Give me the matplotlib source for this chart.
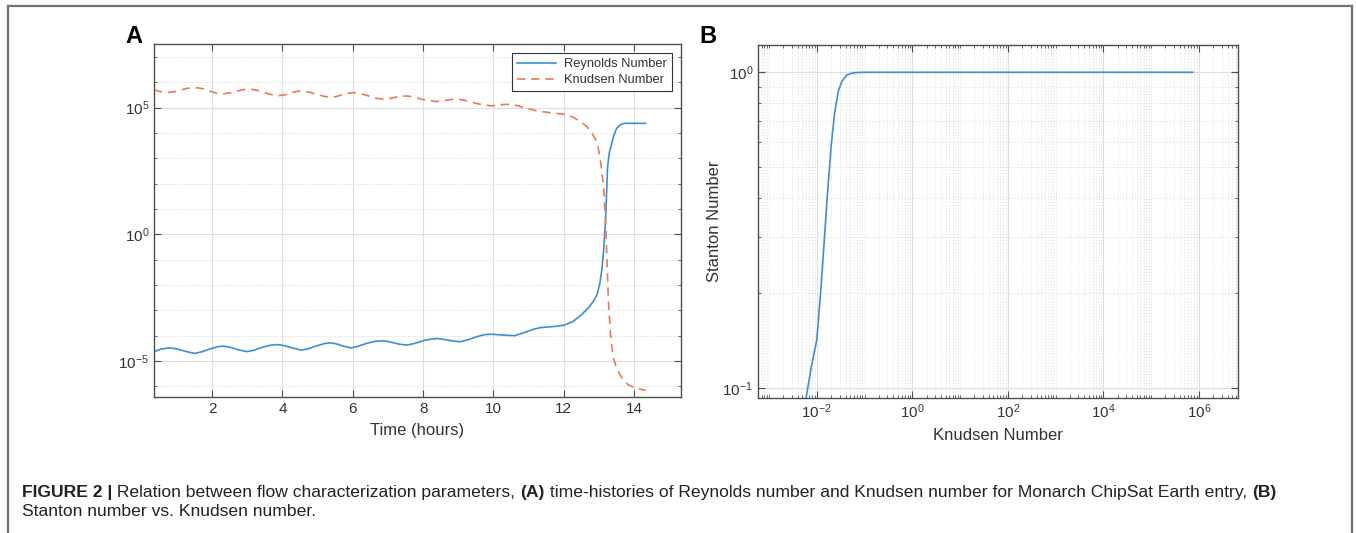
import numpy as np
import matplotlib
matplotlib.use("Agg")
import matplotlib.pyplot as plt
from matplotlib import font_manager
from matplotlib.ticker import FixedLocator, LogLocator, NullFormatter, LogFormatterSciNotation
from matplotlib.lines import Line2D

# ---------------- data ----------------
knudsen_time = [0.35, 0.50, 0.68, 0.90, 1.10, 1.30, 1.53, 1.72, 1.92, 2.10, 2.29, 2.50, 2.70, 2.90,
                3.09, 3.30, 3.50, 3.70, 3.90, 4.08, 4.25, 4.40, 4.56, 4.76, 4.96, 5.17, 5.37, 5.55,
                5.70, 5.86, 6.03, 6.24, 6.45, 6.66, 6.88, 7.05, 7.22, 7.38, 7.55, 7.75, 7.95, 8.18,
                8.40, 8.55, 8.70, 8.85, 9.01, 9.25, 9.50, 9.73, 9.96, 10.10, 10.25, 10.48, 10.70,
                10.95, 11.24, 11.60, 12.00, 12.25, 12.47, 12.65, 12.80, 12.90, 12.97, 13.05, 13.13,
                13.20, 13.27, 13.33, 13.40, 13.50, 13.62, 13.72, 13.83, 14.05, 14.32]
knudsen_log10 = [5.70, 5.64, 5.59, 5.62, 5.69, 5.76, 5.79, 5.75, 5.66, 5.58, 5.54, 5.58, 5.65, 5.71,
                 5.73, 5.68, 5.59, 5.51, 5.47, 5.51, 5.58, 5.64, 5.66, 5.61, 5.53, 5.45, 5.41, 5.44,
                 5.51, 5.56, 5.59, 5.54, 5.46, 5.37, 5.33, 5.36, 5.41, 5.45, 5.46, 5.41, 5.33, 5.27,
                 5.24, 5.27, 5.30, 5.33, 5.33, 5.27, 5.17, 5.10, 5.07, 5.09, 5.12, 5.13, 5.07,
                 4.97, 4.87, 4.80, 4.74, 4.63, 4.45, 4.26, 3.99, 3.75, 3.47, 2.80, 1.90,
                 0.00, -2.74, -4.00, -4.83, -5.30, -5.60, -5.80, -5.94, -6.07, -6.16]

reynolds_time = [0.35, 0.55, 0.80, 1.00, 1.25, 1.50, 1.70, 1.95, 2.15, 2.30, 2.50, 2.75, 3.00, 3.20,
                 3.45, 3.65, 3.85, 4.05, 4.30, 4.55, 4.75, 5.00, 5.20, 5.37, 5.55, 5.75, 5.96, 6.15,
                 6.40, 6.65, 6.89, 7.10, 7.30, 7.54, 7.75, 8.00, 8.20, 8.40, 8.60, 8.85, 9.06, 9.30,
                 9.55, 9.75, 9.93, 10.20, 10.60, 10.85, 11.10, 11.34, 11.70, 12.00, 12.25, 12.48,
                 12.70, 12.86, 12.95, 13.02, 13.08, 13.13, 13.19, 13.24, 13.29, 13.35, 13.42, 13.50,
                 13.60, 13.72, 14.32]
reynolds_log10 = [-4.63, -4.53, -4.48, -4.52, -4.62, -4.70, -4.64, -4.52, -4.44, -4.41, -4.45, -4.56,
                  -4.63, -4.57, -4.45, -4.38, -4.35, -4.39, -4.49, -4.57, -4.51, -4.39, -4.31, -4.28,
                  -4.33, -4.42, -4.48, -4.42, -4.30, -4.22, -4.20, -4.26, -4.33, -4.37, -4.31, -4.20,
                  -4.14, -4.11, -4.15, -4.21, -4.24, -4.15, -4.03, -3.96, -3.94, -3.97, -4.00, -3.89,
                  -3.76, -3.68, -3.64, -3.59, -3.45, -3.20, -2.90, -2.60, -2.35, -1.96, -1.40, -0.65,
                  0.65, 2.60, 3.20, 3.52, 3.90, 4.18, 4.32, 4.38, 4.38]

stanton_knudsen = [0.0055, 0.00597, 0.00773, 0.0100, 0.0119, 0.0141, 0.0168, 0.0200, 0.0236, 0.0282,
                   0.0333, 0.0430, 0.0608, 0.100, 1.0, 10.0, 1.0e2, 1.0e3, 1.0e4, 1.0e5, 7.4e5]
stanton_number = [0.085, 0.093, 0.117, 0.142, 0.195, 0.281, 0.414, 0.582, 0.742, 0.869,
                  0.934, 0.981, 0.997, 1.0, 1.0, 1.0, 1.0, 1.0, 1.0, 1.0, 1.0]

a_xticks = [2, 4, 6, 8, 10, 12, 14]
a_yticks = [1e-5, 1e0, 1e5]
b_xticks = [1e-2, 1e0, 1e2, 1e4, 1e6]
b_yticks = [1e-1, 1e0]

caption_line1 = [("FIGURE 2 |", "bold"),
                 (" Relation between flow characterization parameters, ", "normal"),
                 ("(A)", "bold"),
                 (" time-histories of Reynolds number and Knudsen number for Monarch ChipSat Earth entry, ", "normal"),
                 ("(B)", "bold")]
caption_line2 = "Stanton number vs. Knudsen number."

# ---------------- style ----------------
avail = {f.name for f in font_manager.fontManager.ttflist}
base_font = "Liberation Sans" if "Liberation Sans" in avail else "DejaVu Sans"
cap_font = "Liberation Sans Narrow" if "Liberation Sans Narrow" in avail else base_font

plt.rcParams["font.family"] = [base_font, "DejaVu Sans"]
plt.rcParams["mathtext.fontset"] = "custom"
plt.rcParams["mathtext.rm"] = base_font
plt.rcParams["mathtext.it"] = base_font
plt.rcParams["mathtext.bf"] = base_font + ":bold"
plt.rcParams["axes.unicode_minus"] = False

BLUE = "#3d8ed6"
ORANGE = "#ec7a4f"
AXC = "#4d4d4d"
TXT = "#333333"

W, H = 1356, 533
fig = plt.figure(figsize=(W / 100, H / 100), dpi=100)


def px_rect(l, t, r, b):
    return [l / W, 1 - b / H, (r - l) / W, (b - t) / H]


def style_axes(ax, minor_color="#cfcfcf"):
    for s in ax.spines.values():
        s.set_color(AXC)
        s.set_linewidth(1.0)
    ax.tick_params(which="both", direction="in", top=True, right=True, color=AXC,
                   labelcolor=TXT, labelsize=11)
    ax.tick_params(which="major", length=5, width=0.8)
    ax.tick_params(which="minor", length=2.5, width=0.6)
    ax.grid(which="major", color="#dedede", linestyle="-", linewidth=0.8)
    ax.grid(which="minor", color=minor_color, linestyle=(0, (1, 2)), linewidth=0.7)
    ax.set_axisbelow(True)


# ---------------- Panel A ----------------
axA = fig.add_axes(px_rect(154, 44, 681, 397))
axA.set_yscale("log")
axA.plot(reynolds_time, np.power(10.0, reynolds_log10), color=BLUE, lw=1.2, label="Reynolds Number")
axA.plot(knudsen_time, np.power(10.0, knudsen_log10), color=ORANGE, lw=1.2, ls=(0, (5, 3.5)),
         label="Knudsen Number")
axA.set_xlim(0.35, 15.33)
axA.set_ylim(10 ** -6.42, 10 ** 7.51)
axA.xaxis.set_major_locator(FixedLocator(a_xticks))
axA.yaxis.set_major_locator(FixedLocator(a_yticks))
axA.yaxis.set_major_formatter(LogFormatterSciNotation())
axA.yaxis.set_minor_locator(FixedLocator([10.0 ** k for k in range(-7, 9)]))
axA.yaxis.set_minor_formatter(NullFormatter())
style_axes(axA)
axA.grid(which="minor", axis="x", visible=False)
axA.set_xlabel("Time (hours)", fontsize=12, color=TXT, labelpad=5)
leg = axA.legend(loc="upper right", fontsize=9.3, frameon=True, fancybox=False,
                 edgecolor="#333333", framealpha=1, handlelength=3.0, borderaxespad=0.7,
                 borderpad=0.4, labelspacing=0.3, handletextpad=0.6)
leg.get_frame().set_linewidth(0.8)
for t in leg.get_texts():
    t.set_color(TXT)

# ---------------- Panel B ----------------
axB = fig.add_axes(px_rect(758, 45, 1238, 398))
axB.set_xscale("log")
axB.set_yscale("log")
axB.plot(stanton_knudsen, stanton_number, color=BLUE, lw=1.2)
axB.set_xlim(10 ** -3.23, 10 ** 6.82)
axB.set_ylim(0.093, 1.22)
axB.xaxis.set_major_locator(FixedLocator(b_xticks))
axB.xaxis.set_major_formatter(LogFormatterSciNotation())
axB.xaxis.set_minor_locator(LogLocator(base=10, subs=np.arange(1, 10), numticks=100))
axB.xaxis.set_minor_formatter(NullFormatter())
axB.yaxis.set_major_locator(FixedLocator(b_yticks))
axB.yaxis.set_major_formatter(LogFormatterSciNotation())
axB.yaxis.set_minor_locator(LogLocator(base=10, subs=np.arange(1, 10), numticks=100))
axB.yaxis.set_minor_formatter(NullFormatter())
style_axes(axB, minor_color="#dadada")
axB.set_xlabel("Knudsen Number", fontsize=12, color=TXT, labelpad=5)
axB.set_ylabel("Stanton Number", fontsize=12, color=TXT, labelpad=0.5)

# ---------------- panel letters ----------------
fig.text(125 / W, 1 - 43 / H, "A", fontsize=17, fontweight="bold", color="black", va="baseline")
fig.text(699 / W, 1 - 43 / H, "B", fontsize=17, fontweight="bold", color="black", va="baseline")

# ---------------- frame ----------------
frame_kw = dict(color="#6e6e6e", lw=1.6, transform=fig.transFigure, clip_on=False)
fig.add_artist(Line2D([8 / W, 8 / W], [0, 1 - 6 / H], **frame_kw))
fig.add_artist(Line2D([8 / W, 1352 / W], [1 - 6 / H, 1 - 6 / H], **frame_kw))
fig.add_artist(Line2D([1352 / W, 1352 / W], [0, 1 - 6 / H], **frame_kw))

# ---------------- caption ----------------
fig.canvas.draw()
renderer = fig.canvas.get_renderer()
target_width = 1278 - 22


def place_line(parts, size, y_px):
    x = 22
    arts = []
    for txt, wt in parts:
        t = fig.text(x / W, 1 - y_px / H, txt, fontsize=size, fontweight=wt,
                     family=[cap_font, "DejaVu Sans"], color="#222222", va="center")
        bb = t.get_window_extent(renderer)
        x += bb.width
        arts.append(t)
    return x - 22, arts


w, arts = place_line(caption_line1, 10, 493)
for a in arts:
    a.remove()
size = 10 * target_width / w
place_line(caption_line1, size, 493)
fig.text(22 / W, 1 - 512 / H, caption_line2, fontsize=size, family=[cap_font, "DejaVu Sans"],
         color="#222222", va="center")

fig.savefig("out.png", dpi=100)
